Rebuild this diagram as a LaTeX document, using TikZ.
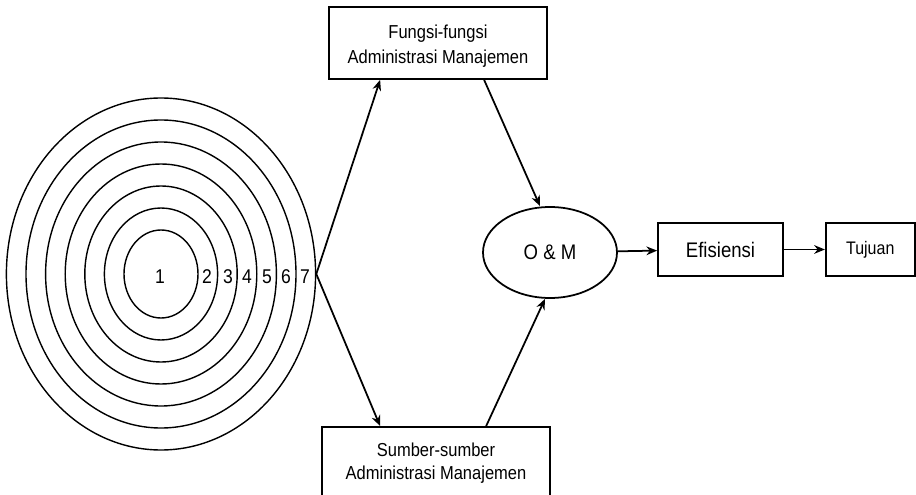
\documentclass[tikz,border=0pt]{standalone}
\usepackage{fontspec}
\setmainfont{Liberation Sans}[FakeStretch=0.88]
\usepackage{tikz}
\usetikzlibrary{arrows.meta, positioning, shapes.geometric}

\begin{document}
\begin{tikzpicture}[
  x=0.3mm, y=-0.3mm,
  font=\fontsize{16}{19}\selectfont,
  every node/.style={text=black},
  box/.style={rectangle, draw=black, line width=1.5pt,
              align=center, inner sep=2pt},
  oval/.style={ellipse, draw=black, line width=1.5pt, inner sep=0pt},
  ring/.style={ellipse, draw=black, line width=1.2pt, inner sep=0pt},
  num/.style={inner sep=0pt, font=\fontsize{17}{20}\selectfont},
  ar/.style={-{Stealth[length=3.2mm, width=2.6mm]}, line width=1.5pt, black}
]
\clip (0,0) rectangle (916,495);

% concentric rings
\foreach \i in {1,...,7}
  \node[ring, minimum width={(74+39.2*(\i-1))*0.3mm},
        minimum height={(88+44*(\i-1))*0.3mm}] (r\i) at (161,274) {};
\node[num] (n1) at (160,277) {1};
\foreach \n/\x in {2/207, 3/228, 4/247, 5/267, 6/286, 7/305}
  \node[num] (n\n) at (\x,277) {\n};

\node[box, minimum width=65.4mm, minimum height=21.6mm] (fungsi) at (438,43)
      {\rule{0pt}{17pt}Fungsi-fungsi \\[3pt] Administrasi Manajemen};
\node[box, minimum width=68.4mm, minimum height=21.6mm] (sumber) at (436,463)
      {Sumber-sumber \\[0.5pt] Administrasi Manajemen};
\node[oval, minimum width=40.2mm, minimum height=27.3mm,
      font=\fontsize{18}{21}\selectfont] (om) at (550,252.5) {O \& M};
\node[box, minimum width=37.5mm, minimum height=15.9mm,
      font=\fontsize{18}{21}\selectfont] (efi) at (720.5,249.5) {Efisiensi};
\node[box, minimum width=26.7mm, minimum height=15.9mm,
      font=\fontsize{15.5}{18}\selectfont, right=12.3mm of efi] (tujuan) {Tujuan};

\draw[ar] (r7.east) -- ([xshift=15.6mm]fungsi.south west);
\draw[ar] (r7.east) -- ([xshift=17.7mm]sumber.north west);
\draw[ar] ([xshift=46.8mm]fungsi.south west) -- ([xshift=-3mm]om.north);
\draw[ar] ([xshift=49.5mm]sumber.north west) -- ([xshift=-1.5mm]om.south);
\draw[ar] (om) -- (efi);
\draw[ar] (efi) -- (tujuan);

\end{tikzpicture}
\end{document}
